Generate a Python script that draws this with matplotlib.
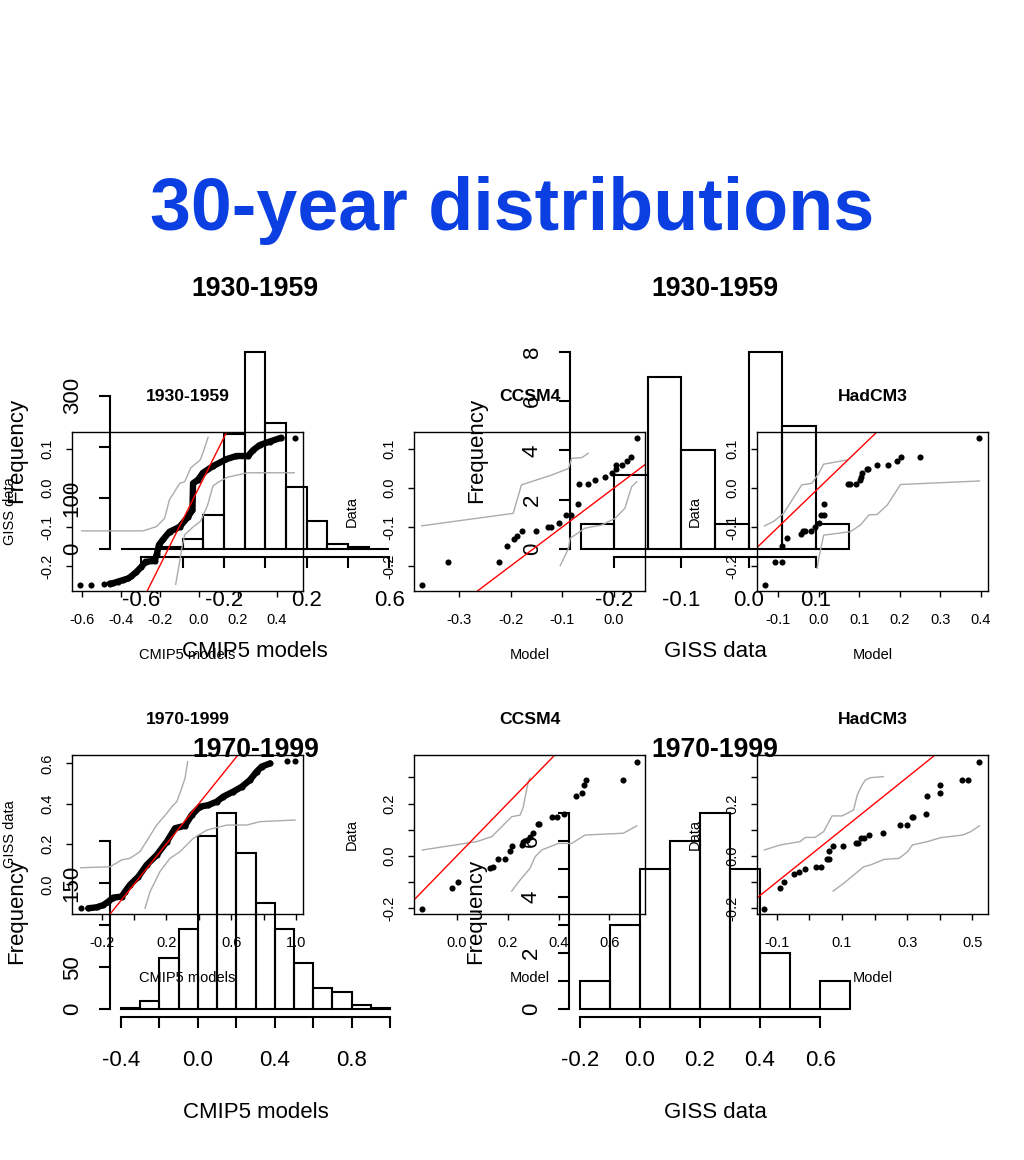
import matplotlib
matplotlib.use("Agg")
import matplotlib.pyplot as plt

plt.rcParams['font.family'] = ['Liberation Sans', 'DejaVu Sans']

# ---------------- data: histograms (large layer) ----------------
cmip_1930_bins = [-0.7, -0.6, -0.5, -0.4, -0.3, -0.2, -0.1, 0.0, 0.1, 0.2, 0.3, 0.4, 0.5, 0.6]
cmip_1930_counts = [1, 1, 5, 19, 67, 226, 386, 246, 122, 55, 10, 5, 1]
giss_1930_bins = [-0.25, -0.2, -0.15, -0.1, -0.05, 0.0, 0.05, 0.1, 0.15]
giss_1930_counts = [1, 3, 7, 4, 1, 8, 5, 1]
cmip_1970_bins = [-0.4, -0.3, -0.2, -0.1, 0.0, 0.1, 0.2, 0.3, 0.4, 0.5, 0.6, 0.7, 0.8, 0.9, 1.0]
cmip_1970_counts = [1, 10, 61, 95, 207, 234, 186, 127, 95, 55, 25, 21, 5, 1]
giss_1970_bins = [-0.2, -0.1, 0.0, 0.1, 0.2, 0.3, 0.4, 0.5, 0.6, 0.7]
giss_1970_counts = [1, 3, 5, 6, 7, 5, 2, 0, 1]

# ---------------- data: Q-Q plots (small layer) ----------------
# 1930-1959 CMIP5 models vs GISS data
qq_cmip_1930_x = [-0.607, -0.553, -0.485, -0.456, -0.439, -0.414, -0.388, -0.362, -0.345, -0.319,
                  -0.294, -0.272, -0.226, -0.214, -0.204, -0.183, -0.149, -0.123, -0.097, -0.055,
                  -0.032, -0.029, -0.004, 0.022, 0.073, 0.142, 0.193, 0.253, 0.279, 0.313, 0.364,
                  0.424, 0.492]
qq_cmip_1930_y = [-0.249, -0.249, -0.246, -0.245, -0.244, -0.240, -0.236, -0.232, -0.226, -0.215,
                  -0.202, -0.189, -0.187, -0.168, -0.146, -0.132, -0.112, -0.106, -0.099, -0.074,
                  -0.056, 0.012, 0.021, 0.039, 0.056, 0.074, 0.082, 0.082, 0.097, 0.110, 0.119,
                  0.129, 0.129]
env_cmip_1930_up_x = [-0.600, -0.285, -0.217, -0.175, -0.150, -0.097, -0.072, -0.040, 0.008, 0.025, 0.048]
env_cmip_1930_up_y = [-0.110, -0.110, -0.099, -0.078, -0.030, 0.012, 0.016, 0.052, 0.072, 0.095, 0.130]
env_cmip_1930_lo_x = [-0.118, -0.100, -0.085, -0.072, -0.029, 0.010, 0.045, 0.073, 0.100, 0.150, 0.250, 0.490]
env_cmip_1930_lo_y = [-0.247, -0.195, -0.150, -0.120, -0.100, -0.085, -0.045, 0.005, 0.015, 0.028, 0.039, 0.039]

# 1930-1959 CCSM4
qq_ccsm_1930_x = [-0.371, -0.322, -0.222, -0.206, -0.193, -0.188, -0.177, -0.150, -0.127, -0.122,
                  -0.106, -0.092, -0.084, -0.069, -0.067, -0.050, -0.037, -0.017, -0.004, 0.003,
                  0.004, 0.016, 0.026, 0.033, 0.044]
qq_ccsm_1930_y = [-0.249, -0.189, -0.189, -0.149, -0.131, -0.123, -0.110, -0.110, -0.099, -0.099,
                  -0.091, -0.069, -0.069, -0.040, 0.009, 0.009, 0.021, 0.029, 0.039, 0.050,
                  0.059, 0.059, 0.069, 0.079, 0.129]
env_ccsm_1930_up_x = [-0.372, -0.195, -0.179, -0.121, -0.088, -0.082, -0.062, -0.050]
env_ccsm_1930_up_y = [-0.097, -0.065, 0.008, 0.033, 0.050, 0.076, 0.078, 0.089]
env_ccsm_1930_lo_x = [-0.104, -0.088, -0.085, -0.056, -0.024, 0.002, 0.021, 0.034, 0.044]
env_ccsm_1930_lo_y = [-0.199, -0.155, -0.129, -0.103, -0.095, -0.078, -0.052, 0.003, 0.016]

# 1930-1959 HadCM3
qq_had_1930_x = [-0.134, -0.108, -0.091, -0.090, -0.079, -0.043, -0.039, -0.035, -0.019, -0.010,
                 0.000, 0.005, 0.012, 0.014, 0.071, 0.078, 0.091, 0.103, 0.105, 0.107, 0.120,
                 0.122, 0.143, 0.171, 0.194, 0.204, 0.249, 0.397]
qq_had_1930_y = [-0.249, -0.189, -0.189, -0.149, -0.129, -0.119, -0.110, -0.109, -0.109, -0.099,
                 -0.091, -0.069, -0.069, -0.040, 0.009, 0.009, 0.009, 0.021, 0.029, 0.039, 0.049,
                 0.050, 0.059, 0.059, 0.069, 0.079, 0.079, 0.129]
env_had_1930_up_x = [-0.134, -0.112, -0.087, -0.042, -0.017, 0.000, 0.012, 0.070]
env_had_1930_up_y = [-0.097, -0.086, -0.065, 0.008, 0.012, 0.038, 0.061, 0.072]
env_had_1930_lo_x = [-0.004, 0.000, 0.012, 0.078, 0.103, 0.124, 0.144, 0.169, 0.202, 0.397]
env_had_1930_lo_y = [-0.206, -0.180, -0.121, -0.112, -0.095, -0.069, -0.068, -0.044, 0.009, 0.018]

# 1970-1999 CMIP5 models vs GISS data
qq_cmip_1970_x = [-0.329, -0.282, -0.230, -0.189, -0.159, -0.128, -0.076, -0.056, -0.025, 0.027,
                  0.078, 0.140, 0.202, 0.253, 0.315, 0.356, 0.407, 0.459, 0.510, 0.551, 0.613,
                  0.665, 0.716, 0.757, 0.788, 0.840, 0.942, 0.994]
qq_cmip_1970_y = [-0.119, -0.119, -0.114, -0.103, -0.086, -0.066, -0.061, -0.037, -0.003, 0.038,
                  0.096, 0.145, 0.211, 0.278, 0.291, 0.344, 0.385, 0.393, 0.410, 0.435, 0.460,
                  0.484, 0.518, 0.559, 0.584, 0.600, 0.612, 0.612]
env_cmip_1970_up_x = [-0.329, -0.148, -0.076, -0.025, 0.037, 0.140, 0.202, 0.233, 0.264, 0.294, 0.315, 0.331]
env_cmip_1970_up_y = [0.082, 0.087, 0.121, 0.129, 0.162, 0.294, 0.352, 0.385, 0.410, 0.476, 0.526, 0.608]
env_cmip_1970_lo_x = [0.068, 0.099, 0.160, 0.222, 0.284, 0.366, 0.449, 0.572, 0.696, 0.778, 0.994]
env_cmip_1970_lo_y = [-0.119, -0.037, 0.063, 0.129, 0.162, 0.228, 0.269, 0.294, 0.294, 0.311, 0.319]

# 1970-1999 CCSM4
qq_ccsm_1970_x = [-0.135, -0.017, 0.006, 0.131, 0.144, 0.161, 0.190, 0.209, 0.219, 0.255, 0.262,
                  0.275, 0.288, 0.301, 0.318, 0.323, 0.373, 0.395, 0.422, 0.469, 0.491, 0.500,
                  0.507, 0.655, 0.707]
qq_ccsm_1970_y = [-0.202, -0.121, -0.101, -0.047, -0.041, -0.013, -0.013, 0.020, 0.039, 0.042, 0.055,
                  0.061, 0.074, 0.087, 0.121, 0.121, 0.150, 0.150, 0.160, 0.229, 0.239, 0.271,
                  0.290, 0.290, 0.360]
env_ccsm_1970_up_x = [-0.135, -0.007, 0.079, 0.138, 0.177, 0.216, 0.249, 0.262, 0.268, 0.281, 0.288]
env_ccsm_1970_up_y = [0.023, 0.042, 0.055, 0.074, 0.112, 0.150, 0.156, 0.188, 0.220, 0.284, 0.297]
env_ccsm_1970_lo_x = [0.216, 0.249, 0.288, 0.308, 0.334, 0.399, 0.452, 0.504, 0.655, 0.707]
env_ccsm_1970_lo_y = [-0.134, -0.092, -0.047, -0.003, 0.023, 0.048, 0.048, 0.080, 0.087, 0.115]

# 1970-1999 HadCM3
qq_had_1970_x = [-0.138, -0.091, -0.077, -0.048, -0.030, -0.014, 0.021, 0.037, 0.054, 0.062, 0.062,
                 0.072, 0.104, 0.142, 0.149, 0.160, 0.167, 0.183, 0.227, 0.277, 0.301, 0.314,
                 0.318, 0.357, 0.362, 0.401, 0.401, 0.467, 0.485, 0.521]
qq_had_1970_y = [-0.202, -0.121, -0.101, -0.070, -0.060, -0.051, -0.041, -0.041, -0.011, -0.011, 0.019,
                 0.039, 0.039, 0.048, 0.048, 0.070, 0.070, 0.080, 0.089, 0.118, 0.118, 0.148,
                 0.150, 0.160, 0.230, 0.239, 0.271, 0.290, 0.290, 0.360]
env_had_1970_up_x = [-0.138, -0.089, -0.028, -0.012, 0.018, 0.044, 0.070, 0.101, 0.136, 0.147, 0.162, 0.172, 0.188, 0.227]
env_had_1970_up_y = [0.023, 0.042, 0.055, 0.071, 0.071, 0.093, 0.153, 0.153, 0.176, 0.233, 0.271, 0.290, 0.299, 0.303]
env_had_1970_lo_x = [0.073, 0.106, 0.136, 0.167, 0.188, 0.229, 0.275, 0.301, 0.316, 0.362, 0.403, 0.470, 0.495, 0.521]
env_had_1970_lo_y = [-0.134, -0.104, -0.073, -0.041, -0.034, -0.013, -0.009, 0.016, 0.042, 0.055, 0.070, 0.080, 0.093, 0.115]

# ---------------- figure ----------------
W, H = 1024, 1160
fig = plt.figure(figsize=(W / 100, H / 100), dpi=100)
PX = 0.72  # points per pixel


def add_ax(left, top, width, height):
    ax = fig.add_axes([left / W, 1 - (top + height) / H, width / W, height / H])
    ax.patch.set_alpha(0)
    return ax


def style(ax, xt, xl, yt, yl, fs, tlen_px, lw, xlab_px, ylab_px):
    ax.set_xticks(xt)
    ax.set_xticklabels(xl)
    ax.set_yticks(yt)
    ax.set_yticklabels(yl, rotation=90, va='center')
    ax.tick_params(direction='out', length=tlen_px * PX, width=lw, labelsize=fs, colors='black')
    em = fs / PX
    ax.tick_params(axis='x', pad=(xlab_px - 0.36 * em - tlen_px) * PX)
    ax.tick_params(axis='y', pad=(ylab_px - 0.57 * em - tlen_px) * PX)
    for s in ax.spines.values():
        s.set_linewidth(lw)


def labels(ax, w, h, title, xlabel, ylabel, fs_t, fs_l, t_px, x_px, y_px):
    ax.set_title(title, fontsize=fs_t, fontweight='bold', y=1 + t_px / h, va='center', pad=0)
    ax.set_xlabel(xlabel, fontsize=fs_l)
    ax.xaxis.set_label_coords(0.5, -x_px / h)
    ax.xaxis.label.set_va('center')
    ax.set_ylabel(ylabel, fontsize=fs_l)
    ax.yaxis.set_label_coords(-y_px / w, 0.5)
    ax.yaxis.label.set_va('center')


def fmt(v):
    return f"{v:.1f}".replace("-0.0", "0.0")


# ---------- large layer: histograms ----------
FS_A = 16
LW_A = 1.5


def hist_panel(left, top, w, h, bins, counts, xlim, ylim, xt, xl, yt, yl, title, xlabel):
    ax = add_ax(left, top, w, h)
    widths = [b - a for a, b in zip(bins[:-1], bins[1:])]
    ax.bar(bins[:-1], counts, width=widths, align='edge', fill=False,
           edgecolor='black', linewidth=LW_A)
    ax.set_xlim(*xlim)
    ax.set_ylim(*ylim)
    style(ax, xt, xl, yt, yl, FS_A, 11, LW_A, 41, 40)
    ax.spines['top'].set_visible(False)
    ax.spines['right'].set_visible(False)
    ax.spines['bottom'].set_bounds(xt[0], xt[-1])
    ax.spines['left'].set_bounds(yt[0], yt[-1])
    labels(ax, w, h, title, xlabel, 'Frequency', 19.2, FS_A, 55, 95, 93)
    return ax


def rext(lo, hi):
    d = (hi - lo) * 0.04
    return (lo - d, hi + d)


xt = [-0.6, -0.4, -0.2, 0.0, 0.2, 0.4, 0.6]
hist_panel(110, 344, 290, 213, cmip_1930_bins, cmip_1930_counts,
           rext(cmip_1930_bins[0], cmip_1930_bins[-1]), rext(0, max(cmip_1930_counts)),
           xt, ['-0.6', '', '-0.2', '', '0.2', '', '0.6'],
           [0, 100, 200, 300], ['0', '100', '', '300'], '1930-1959', 'CMIP5 models')

xt = [-0.2, -0.1, 0.0, 0.1]
hist_panel(570, 344, 290, 213, giss_1930_bins, giss_1930_counts,
           rext(giss_1930_bins[0], giss_1930_bins[-1]), rext(0, max(giss_1930_counts)),
           xt, [fmt(v) for v in xt],
           [0, 2, 4, 6, 8], ['0', '2', '4', '6', '8'], '1930-1959', 'GISS data')

xt = [-0.4, -0.2, 0.0, 0.2, 0.4, 0.6, 0.8, 1.0]
hist_panel(110, 805, 291, 212, cmip_1970_bins, cmip_1970_counts,
           rext(cmip_1970_bins[0], cmip_1970_bins[-1]), rext(0, max(cmip_1970_counts)),
           xt, ['-0.4', '', '0.0', '', '0.4', '', '0.8', ''],
           [0, 50, 100, 150, 200], ['0', '50', '', '150', ''], '1970-1999', 'CMIP5 models')

xt = [-0.2, 0.0, 0.2, 0.4, 0.6]
hist_panel(569, 805, 292, 212, giss_1970_bins, giss_1970_counts,
           rext(giss_1970_bins[0], giss_1970_bins[-1]), rext(0, max(giss_1970_counts)),
           xt, [fmt(v) for v in xt],
           list(range(8)), ['0', '', '2', '', '4', '', '6', ''], '1970-1999', 'GISS data')

# ---------- small layer: Q-Q plots ----------
FS_B = 10.5
LW_B = 1.0
GRAY = '#ababab'


def qq_panel(left, top, xlim, ylim, qx, qy, ux, uy, lx, ly, xt, xl, yt, yl,
             title, xlabel, ylabel, dense=None):
    w, h = 231, 159
    ax = add_ax(left, top, w, h)
    ax.set_xlim(*xlim)
    ax.set_ylim(*ylim)
    ax.plot(ux, uy, color=GRAY, lw=1.0)
    ax.plot(lx, ly, color=GRAY, lw=1.0)
    if dense is not None:
        ax.plot(qx[dense], qy[dense], color='black', lw=4.6, solid_capstyle='round',
                solid_joinstyle='round')
    ax.plot(qx, qy, 'o', color='black', ms=4.4, mew=0)
    ax.axline((0, 0), slope=1, color='red', lw=1.0)
    style(ax, xt, xl, yt, yl, FS_B, 6, LW_B, 27, 25.5)
    labels(ax, w, h, title, xlabel, ylabel, 12.6, FS_B, 36, 64, 62)
    return ax


ylim_1930 = ((488 - 591) / 390, (488 - 432) / 390)
yt_1930 = [-0.2, -0.1, 0.0, 0.1]
qq_panel(72, 432, ((72 - 198.7) / 195, (303 - 198.7) / 195), ylim_1930,
         qq_cmip_1930_x, qq_cmip_1930_y, env_cmip_1930_up_x, env_cmip_1930_up_y,
         env_cmip_1930_lo_x, env_cmip_1930_lo_y,
         [-0.6, -0.4, -0.2, 0.0, 0.2, 0.4], ['-0.6', '-0.4', '-0.2', '0.0', '0.2', '0.4'],
         yt_1930, [fmt(v) for v in yt_1930], '1930-1959', 'CMIP5 models', 'GISS data',
         dense=slice(3, -1))
xt = [-0.3, -0.2, -0.1, 0.0]
qq_panel(414, 432, ((414 - 614) / 517, (645 - 614) / 517), ylim_1930,
         qq_ccsm_1930_x, qq_ccsm_1930_y, env_ccsm_1930_up_x, env_ccsm_1930_up_y,
         env_ccsm_1930_lo_x, env_ccsm_1930_lo_y,
         xt, [fmt(v) for v in xt], yt_1930, [fmt(v) for v in yt_1930], 'CCSM4', 'Model', 'Data')
xt = [-0.1, 0.0, 0.1, 0.2, 0.3, 0.4]
qq_panel(757, 432, ((757 - 818.5) / 403, (987 - 818.5) / 403), ylim_1930,
         qq_had_1930_x, qq_had_1930_y, env_had_1930_up_x, env_had_1930_up_y,
         env_had_1930_lo_x, env_had_1930_lo_y,
         xt, [fmt(v) for v in xt], yt_1930, [fmt(v) for v in yt_1930], 'HadCM3', 'Model', 'Data')

xt = [-0.2, 0.0, 0.2, 0.4, 0.6, 0.8, 1.0]
yt = [0.0, 0.2, 0.4, 0.6]
qq_panel(72, 755, ((72 - 134) / 162, (303 - 134) / 162), ((884.3 - 914) / 201.5, (884.3 - 755) / 201.5),
         qq_cmip_1970_x, qq_cmip_1970_y, env_cmip_1970_up_x, env_cmip_1970_up_y,
         env_cmip_1970_lo_x, env_cmip_1970_lo_y,
         xt, ['-0.2', '', '0.2', '', '0.6', '', '1.0'], yt, [fmt(v) for v in yt],
         '1970-1999', 'CMIP5 models', 'GISS data', dense=slice(1, -2))
ylim_1970 = ((856 - 914) / 262, (856 - 755) / 262)
yt_1970 = [-0.2, -0.1, 0.0, 0.1, 0.2, 0.3]
yl_1970 = ['-0.2', '', '0.0', '', '0.2', '']
xt = [0.0, 0.2, 0.4, 0.6]
qq_panel(414, 755, ((414 - 456.7) / 254.5, (645 - 456.7) / 254.5), ylim_1970,
         qq_ccsm_1970_x, qq_ccsm_1970_y, env_ccsm_1970_up_x, env_ccsm_1970_up_y,
         env_ccsm_1970_lo_x, env_ccsm_1970_lo_y,
         xt, [fmt(v) for v in xt], yt_1970, yl_1970, 'CCSM4', 'Model', 'Data')
xt = [-0.1, 0.0, 0.1, 0.2, 0.3, 0.4, 0.5]
qq_panel(757, 755, ((757 - 809) / 325, (987 - 809) / 325), ylim_1970,
         qq_had_1970_x, qq_had_1970_y, env_had_1970_up_x, env_had_1970_up_y,
         env_had_1970_lo_x, env_had_1970_lo_y,
         xt, ['-0.1', '', '0.1', '', '0.3', '', '0.5'], yt_1970, yl_1970, 'HadCM3', 'Model', 'Data')

# ---------- main title ----------
fig.text(0.5, 1 - 230 / H, '30-year distributions', ha='center', va='baseline',
         fontsize=53, fontweight='bold', color='#0b3fe2')

fig.savefig('out.png', dpi=100)
